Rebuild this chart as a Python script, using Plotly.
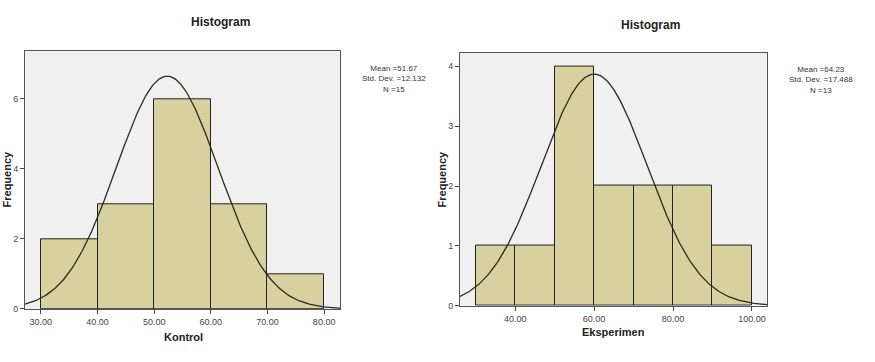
import numpy as np
import plotly.graph_objects as go

# Data
kontrol_edges = [30, 40, 50, 60, 70, 80]
kontrol_counts = [2, 3, 6, 3, 1]
kontrol_stats = "Mean =51.67<br>Std. Dev. =12.132<br>N =15"
kontrol_curve_mean = 52.3
kontrol_curve_sd = 9.0
kontrol_n = 15

eksp_edges = [30, 40, 50, 60, 70, 80, 90, 100]
eksp_counts = [1, 1, 4, 2, 2, 2, 1]
eksp_stats = "Mean =64.23<br>Std. Dev. =17.488<br>N =13"
eksp_curve_mean = 60.0
eksp_curve_sd = 13.4
eksp_n = 13

W, H = 875, 362
BAR = "#d6d19e"
BG = "#f0f0f0"
FONT = "Arial, Liberation Sans, sans-serif"

fig = go.Figure()

def add_hist(edges, counts, mean, sd, n, xr, xa, ya):
    edges = np.array(edges, dtype=float)
    centers = (edges[:-1] + edges[1:]) / 2
    widths = np.diff(edges)
    fig.add_trace(go.Bar(x=centers, y=counts, width=widths, marker=dict(color=BAR, line=dict(color="#222", width=1)),
                         xaxis=xa, yaxis=ya, showlegend=False))
    bw = widths[0]
    xs = np.linspace(xr[0], xr[1], 300)
    ys = n * bw / (sd * np.sqrt(2 * np.pi)) * np.exp(-0.5 * ((xs - mean) / sd) ** 2)
    fig.add_trace(go.Scatter(x=xs, y=ys, mode="lines", line=dict(color="#2a2a22", width=1.3),
                             xaxis=xa, yaxis=ya, showlegend=False, cliponaxis=True))

xr1 = [27.2, 82.8]
xr2 = [26.0, 103.9]
add_hist(kontrol_edges, kontrol_counts, kontrol_curve_mean, kontrol_curve_sd, kontrol_n, xr1, "x", "y")
add_hist(eksp_edges, eksp_counts, eksp_curve_mean, eksp_curve_sd, eksp_n, xr2, "x2", "y2")

def px(x):
    return x / W
def py(y):
    return 1 - y / H

tickfont = dict(family=FONT, size=9, color="#444")
common_x = dict(showgrid=False, zeroline=False, showline=True, mirror=True, linecolor="#555", linewidth=1,
                ticks="outside", ticklen=4, tickcolor="#444", tickfont=tickfont, tickformat=".2f")
common_y = dict(showgrid=False, zeroline=False, showline=True, mirror=True, linecolor="#555", linewidth=1,
                ticks="outside", ticklen=4, tickcolor="#444", tickfont=tickfont)

fig.update_layout(
    width=W, height=H, margin=dict(l=0, r=0, t=0, b=0),
    paper_bgcolor="white", plot_bgcolor=BG, bargap=0,
    xaxis=dict(common_x, domain=[px(25), px(340)], range=xr1, tickvals=kontrol_edges, anchor="y"),
    yaxis=dict(common_y, domain=[py(313.3), py(52)], range=[0, 7.36], dtick=2, anchor="x"),
    xaxis2=dict(common_x, domain=[px(460), px(767.3)], range=xr2, tickvals=[40, 60, 80, 100], anchor="y2"),
    yaxis2=dict(common_y, domain=[py(310), py(53.3)], range=[0, 4.23], dtick=1, anchor="x2"),
)

ann = []
def add_text(text, x, y, size, bold=False, angle=0, color="#222"):
    ann.append(dict(text=f"<b>{text}</b>" if bold else text, x=px(x), y=py(y), xref="paper", yref="paper",
                    showarrow=False, textangle=angle, font=dict(family=FONT, size=size, color=color),
                    xanchor="center", yanchor="middle"))

add_text("Histogram", 220, 22, 12, bold=True)
add_text("Histogram", 650, 25, 12, bold=True)
add_text("Frequency", 7, 182, 11, bold=True, angle=-90)
add_text("Frequency", 442, 182, 11, bold=True, angle=-90)
add_text("Kontrol", 183, 342, 11, bold=True)
add_text("Eksperimen", 613, 337, 11, bold=True)
ann.append(dict(text=kontrol_stats, x=px(394), y=py(80), xref="paper", yref="paper", showarrow=False,
                font=dict(family=FONT, size=8, color="#333"), align="center", xanchor="center", yanchor="middle"))
ann.append(dict(text=eksp_stats, x=px(821), y=py(81), xref="paper", yref="paper", showarrow=False,
                font=dict(family=FONT, size=8, color="#333"), align="center", xanchor="center", yanchor="middle"))
fig.update_layout(annotations=ann)

fig.write_html("out.html")
